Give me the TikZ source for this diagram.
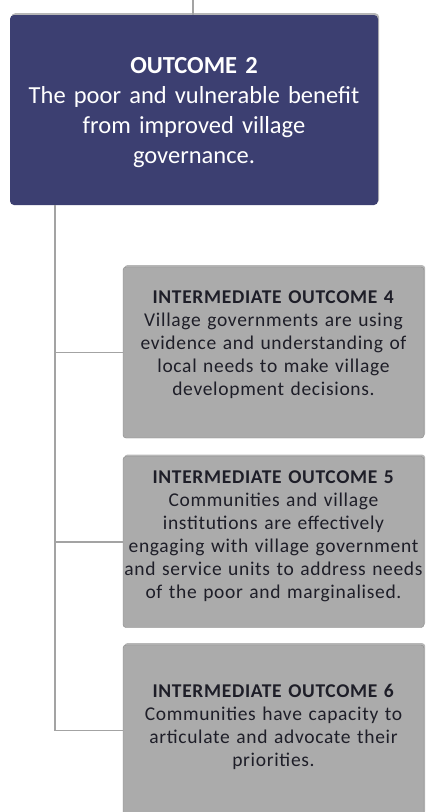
\documentclass[tikz,border=0pt]{standalone}
\usepackage{fontspec}
\setmainfont{Carlito}
\newfontfamily\iofont[LetterSpace=3.5]{Carlito}
\usetikzlibrary{shadows}
\definecolor{outcomeblue}{HTML}{3C3F71}
\definecolor{iogray}{HTML}{ABABAB}
\definecolor{linkgray}{HTML}{A3A3A3}
\definecolor{iotext}{HTML}{1E1E28}
\tikzset{
  boxshadow/.style={drop shadow={opacity=0.35, shadow xshift=1.2pt, shadow yshift=1.8pt, fill=black!80}},
  outcomebox/.style={rounded corners=4pt, fill=outcomeblue, text=white, align=center,
    text width=360pt, inner xsep=4pt, minimum height=190pt, boxshadow,
    font=\fontsize{24.5}{30}\selectfont, execute at end node={\par\vspace{-6pt}}},
  iobox/.style={rounded corners=3pt, fill=iogray, draw=iogray!80!black, line width=0.4pt,
    text=iotext, align=center, text width=301pt, inner xsep=0pt, minimum height=171pt,
    boxshadow, font=\iofont\fontsize{19.5}{23}\selectfont},
  tailgap/.style={execute at end node={\par\vspace{#1}}},
  link/.style={draw=linkgray, line width=1.2pt}
}
\begin{document}
\begin{tikzpicture}[x=1pt, y=-1pt]
  \useasboundingbox (0,0) rectangle (428,812);
  \clip (0,0) rectangle (428,812);
  \fill[white] (0,0) rectangle (428,812);

  % upper link into the outcome box
  \coordinate (feed) at (193,-2);
  \node[outcomebox] (out) at (194,110) {\textbf{OUTCOME 2}\\The poor and vulnerable benefit\\from improved village\\governance.};

  % intermediate outcomes
  \node[iobox, tailgap=16pt] (io4) at (273.5,352.5) {\textbf{INTERMEDIATE OUTCOME 4}\\Village governments are using\\evidence and understanding of\\local needs to make village\\development decisions.};
  \node[iobox, tailgap=12pt] (io5) at (273.5,542) {\textbf{INTERMEDIATE OUTCOME 5}\\Communities and village\\institutions are effectively\\\mbox{engaging with village government}\\\mbox{and service units to address needs}\\of the poor and marginalised.};
  \node[iobox, tailgap=8pt] (io6) at (273.5,730.5) {\textbf{INTERMEDIATE OUTCOME 6}\\Communities have capacity to\\articulate and advocate their\\priorities.};

  % connectors
  \draw[link] (feed) -- (feed |- out.north);
  \coordinate (trunk) at (55,0);
  \draw[link] (trunk |- out.south) |- (io4.west);
  \draw[link] (trunk |- out.south) |- (io5.west);
  \draw[link] (trunk |- out.south) |- (io6.west);
\end{tikzpicture}
\end{document}
